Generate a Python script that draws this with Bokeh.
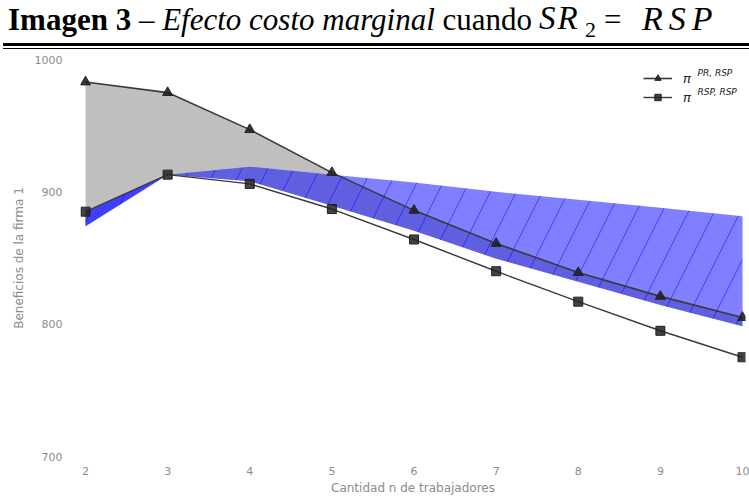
from bokeh.plotting import figure
from bokeh.layouts import column
from bokeh.models import Range1d, FixedTicker, Label, Legend, LegendItem, Div
from bokeh.embed import file_html
from bokeh.resources import INLINE

# ---- data ----
n_workers = [2, 3, 4, 5, 6, 7, 8, 9, 10]
pi_pr_rsp = [983, 975, 947, 914.5, 886, 861, 839, 821, 805]
pi_rsp_rsp = [885, 913, 906, 887, 864, 840, 817, 795, 775]
band_upper = [885, 913, 919, 913, 907, 900, 894, 888, 881.5]
band_lower = [874, 913, 908, 889.5, 870.5, 849.5, 832, 814.5, 798.5]
y_ticks = [700, 800, 900, 1000]

gray_bottom = [pi_rsp_rsp[0]] + band_lower[1:]

TXT = "#8c8c8c"
LINE = "#3a3a3a"
W = 749
TOP_H = 52
MAIN_H = 497 - TOP_H

# ---------------- title strip ----------------
# (html text, left px, baseline px, font size px, css extra)
title_parts = [
    ("<b>Imagen 3</b> – <i>Efecto costo marginal</i> cuando", 8, 30, 31, ""),
    ("SR", 539, 30, 33, "font-style:italic;letter-spacing:2px;"),
    ("2", 585, 37, 22, ""),
    ("=", 604, 30, 31, ""),
    ("RSP", 642, 30, 34, "font-style:italic;letter-spacing:6px;"),
]
spans = ""
for txt, left, base, fs, extra in title_parts:
    top = base - 0.8375 * fs
    spans += ('<span style="position:absolute;left:%dpx;top:%.1fpx;font-size:%dpx;line-height:1;'
              'white-space:nowrap;%s">%s</span>' % (left, top, fs, extra, txt))
title_html = (
    '<div style="position:relative;width:749px;height:52px;overflow:hidden;'
    'font-family:\'Liberation Serif\',serif;color:#000;">' + spans +
    '<div style="position:absolute;left:3px;right:0;top:43px;height:2.5px;background:#000;"></div>'
    '<div style="position:absolute;left:3px;right:0;top:47.5px;height:1px;background:#000;"></div>'
    '</div>'
)
t = Div(text=title_html, width=W, height=TOP_H, styles={"margin": "0", "padding": "0"})

# ---------------- main chart ----------------
p = figure(width=W, height=MAIN_H, x_range=Range1d(1.939, 10.0365), y_range=Range1d(700, 1000),
           output_backend="svg", toolbar_location=None,
           min_border_left=80, min_border_right=4, min_border_top=7, min_border_bottom=37)
p.outline_line_color = None
p.grid.grid_line_color = None
p.axis.axis_line_color = None
p.axis.major_tick_line_color = None
p.axis.minor_tick_line_color = None
p.axis.major_label_text_color = TXT
p.axis.major_label_text_font = "DejaVu Sans"
p.axis.major_label_text_font_size = "11px"
p.axis.axis_label_text_color = TXT
p.axis.axis_label_text_font = "DejaVu Sans"
p.axis.axis_label_text_font_size = "12px"
p.axis.axis_label_text_font_style = "normal"
p.xaxis.ticker = FixedTicker(ticks=n_workers)
p.yaxis.ticker = FixedTicker(ticks=y_ticks)
p.xaxis.major_label_standoff = 4
p.yaxis.major_label_standoff = 12
p.xaxis.axis_label = "Cantidad n de trabajadores"
p.xaxis.axis_label_standoff = 3
p.yaxis.axis_label = "Beneficios de la firma 1"
p.yaxis.axis_label_standoff = 6

# gray region
p.varea(x=n_workers, y1=gray_bottom, y2=pi_pr_rsp, fill_color="#bfbfbf", fill_alpha=1.0)
# blue hatched band
p.varea(x=n_workers, y1=band_lower, y2=band_upper, fill_color="blue", fill_alpha=0.5,
        hatch_pattern="/", hatch_color="blue", hatch_alpha=0.5, hatch_scale=52, hatch_weight=1)
p.varea(x=n_workers[:2], y1=band_lower[:2], y2=band_upper[:2], fill_color="blue", fill_alpha=0.5)

l1 = p.line(n_workers, pi_pr_rsp, line_color=LINE, line_width=1.6)
m1 = p.scatter(n_workers, pi_pr_rsp, marker="triangle", size=10, fill_color="#222222",
               line_color="#222222", fill_alpha=0.9)
l2 = p.line(n_workers, pi_rsp_rsp, line_color=LINE, line_width=1.4)
m2 = p.scatter(n_workers, pi_rsp_rsp, marker="square", size=9, fill_color="#222222",
               line_color="#222222", fill_alpha=0.85)

legend = Legend(items=[LegendItem(label="π", renderers=[l1, m1]),
                       LegendItem(label="π", renderers=[l2, m2])],
                location=(563, 351), glyph_width=29, glyph_height=16, label_height=16,
                spacing=3, padding=0, margin=0, label_standoff=11,
                border_line_color=None, background_fill_alpha=0,
                label_text_font="DejaVu Sans", label_text_font_style="italic",
                label_text_font_size="13px", label_text_color="#222222")
p.add_layout(legend)

FRAME_BOTTOM = MAIN_H - 37  # canvas y of the frame bottom inside the main figure


def plab(text, cx, cy, size, style="italic"):
    # cx, cy: page pixel position
    p.add_layout(Label(x=cx - 80, y=FRAME_BOTTOM - (cy - TOP_H), x_units="screen", y_units="screen",
                       text=text, text_font="DejaVu Sans", text_font_size=size, text_font_style=style,
                       text_color="#222222", text_baseline="alphabetic", text_align="left"))


plab("PR, RSP", 697, 76, "9px")
plab("RSP, RSP", 697, 95, "9px")

open("out.html", "w").write(file_html(column(t, p, spacing=0), INLINE))
